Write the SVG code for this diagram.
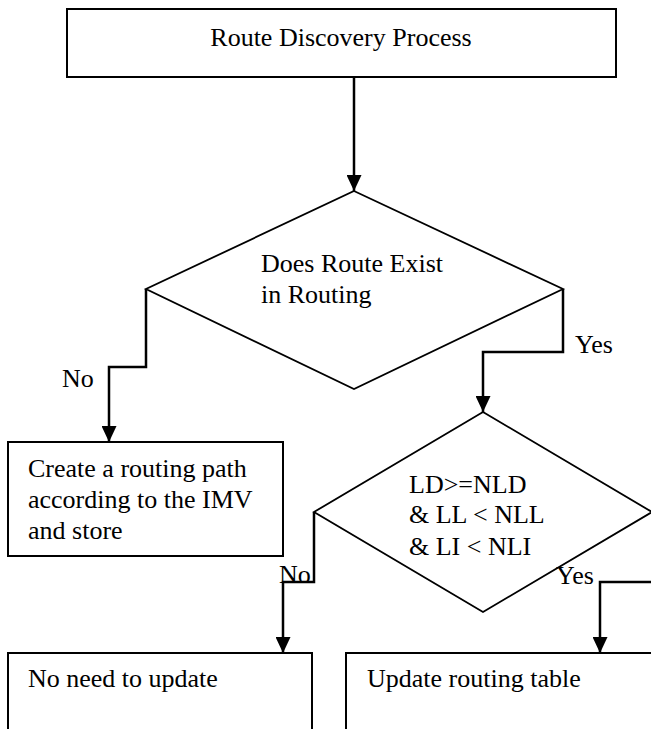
<svg xmlns="http://www.w3.org/2000/svg" width="651" height="729" viewBox="0 0 651 729">
<style>
.box{fill:#fff;stroke:#000;stroke-width:2}
.dia{fill:#fff;stroke:#000;stroke-width:1.8}
.t{font-family:'Liberation Serif','DejaVu Serif',serif;font-size:26px;fill:#000}
.conn{fill:none;stroke:#000;stroke-width:2.5}
</style>
<defs>
<marker id="ah" markerUnits="userSpaceOnUse" markerWidth="16" markerHeight="15" refX="16" refY="7.5" orient="auto">
<path d="M0,0 L16,7.5 L0,15 z" fill="#000"/>
</marker>
</defs>
<rect width="651" height="729" fill="#fff"/>
<g id="start">
<rect class="box" x="67" y="9" width="549" height="68"/>
<text class="t" x="341" y="46" text-anchor="middle">Route Discovery Process</text>
</g>
<g id="decision1">
<polygon class="dia" points="354,191 563,289 354,389 146,289"/>
<text class="t" x="261" y="272">Does Route Exist</text>
<text class="t" x="261" y="303">in Routing</text>
</g>
<g id="create">
<rect class="box" x="8" y="442" width="275" height="114"/>
<text class="t" x="28" y="477">Create a routing path</text>
<text class="t" x="28" y="508">according to the IMV</text>
<text class="t" x="28" y="539">and store</text>
</g>
<g id="decision2">
<polygon class="dia" points="483,412 652,512 483,612 314,512"/>
<text class="t" x="409" y="493">LD&gt;=NLD</text>
<text class="t" x="409" y="523">&amp; LL &lt; NLL</text>
<text class="t" x="409" y="555">&amp; LI &lt; NLI</text>
</g>
<g id="noupdate">
<rect class="box" x="8" y="653" width="304" height="110"/>
<text class="t" x="28" y="687">No need to update</text>
</g>
<g id="update">
<rect class="box" x="346" y="653" width="320" height="110"/>
<text class="t" x="367" y="687">Update routing table</text>
</g>
<g id="connectors">
<path class="conn" d="M354,77 L354,191" marker-end="url(#ah)"/>
<path class="conn" d="M146,289 L146,367 L109,367 L109,442" marker-end="url(#ah)"/>
<path class="conn" d="M563,289 L563,352 L483,352 L483,412" marker-end="url(#ah)"/>
<path class="conn" d="M314,512 L314,582 L283,582 L283,653" marker-end="url(#ah)"/>
<path class="conn" d="M654,512 L654,582 L600,582 L600,653" marker-end="url(#ah)"/>
<text class="t" x="62" y="387">No</text>
<text class="t" x="575" y="353">Yes</text>
<text class="t" x="279" y="583">No</text>
<text class="t" x="556" y="584">Yes</text>
</g>
</svg>
